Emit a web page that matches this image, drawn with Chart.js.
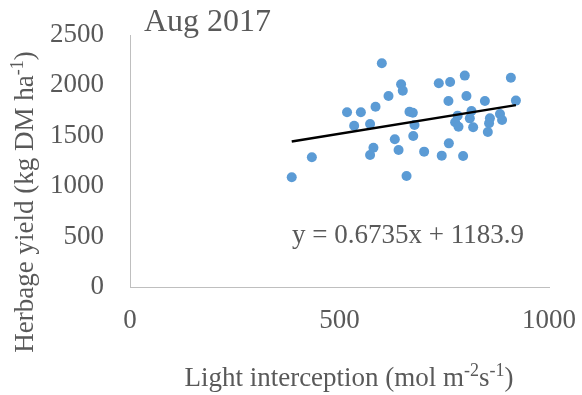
<!DOCTYPE html>
<html>
<head>
<meta charset="utf-8">
<title>Herbage yield vs light interception, Aug 2017</title>
<script src="https://cdn.jsdelivr.net/npm/chart.js@4/dist/chart.umd.min.js"></script>
<style>
  html, body { margin: 0; padding: 0; background: #ffffff; }
  #wrap { width: 582px; height: 395px; }
</style>
</head>
<body>
<div id="wrap"><canvas id="c" width="582" height="395"></canvas></div>
<script>
// Light interception (mol m-2 s-1) per plot
const lightInterception = [
  386, 434, 601, 518, 551, 535, 573, 586, 617, 647, 651,
  667, 675, 679, 676, 632, 581, 573, 641, 660, 702, 744,
  761, 795, 737, 764, 799, 760, 803, 782, 776, 784, 815,
  811, 819, 847, 859, 857, 854, 883, 888, 909, 921
];
// Herbage yield (kg DM ha-1) per plot
const herbageYield = [
  1088, 1287, 2219, 1733, 1733, 1600, 1617, 1789, 1895, 2011, 1948,
  1739, 1729, 1607, 1498, 1465, 1382, 1310, 1359, 1101, 1343, 1303,
  1425, 1300, 2021, 2034, 2097, 1845, 1895, 1700, 1634, 1590, 1746,
  1673, 1584, 1845, 1673, 1624, 1538, 1716, 1657, 2076, 1849
];
// Linear trendline coefficients
const slope = 0.6735;
const intercept = 1183.9;
// Axis ticks
const xTicks = [0, 500, 1000];
const yTicks = [0, 500, 1000, 1500, 2000, 2500];

const points = lightInterception.map((x, i) => ({ x: x, y: herbageYield[i] }));
const xMin = Math.min(...lightInterception);
const xMax = Math.max(...lightInterception);
const trend = [xMin, xMax].map(x => ({ x: x, y: slope * x + intercept }));

const FONT = '"Liberation Serif", "Times New Roman", serif';
const TEXT = '#595959';

// Draws a run of text pieces, some raised as superscripts
function drawRich(ctx, parts, size, x, y, align) {
  const supSize = Math.round(size * 0.65);
  let total = 0;
  parts.forEach(p => {
    ctx.font = (p.sup ? supSize : size) + 'px ' + FONT;
    p.w = ctx.measureText(p.t).width;
    total += p.w;
  });
  let cx = align === 'center' ? x - total / 2 : x;
  parts.forEach(p => {
    ctx.font = (p.sup ? supSize : size) + 'px ' + FONT;
    ctx.fillText(p.t, cx, p.sup ? y - size * 0.38 : y);
    cx += p.w;
  });
}

const labelsPlugin = {
  id: 'labels',
  afterDraw(chart) {
    const ctx = chart.ctx;
    ctx.save();
    ctx.fillStyle = TEXT;
    ctx.textAlign = 'left';
    ctx.textBaseline = 'alphabetic';

    // panel title
    ctx.font = '32px ' + FONT;
    ctx.fillText('Aug 2017', 144, 31);

    // trendline equation
    ctx.font = '27px ' + FONT;
    ctx.fillText('y = ' + slope + 'x + ' + intercept, 292, 243);

    // x axis title
    drawRich(ctx, [
      { t: 'Light interception (mol m' },
      { t: '-2', sup: true },
      { t: 's' },
      { t: '-1', sup: true },
      { t: ')' }
    ], 27, 349, 386, 'center');

    // y axis title
    ctx.translate(33, 202);
    ctx.rotate(-Math.PI / 2);
    drawRich(ctx, [
      { t: 'Herbage yield (kg DM ha' },
      { t: '-1', sup: true },
      { t: ')' }
    ], 27, 0, 0, 'center');
    ctx.restore();
  }
};

const plainNumber = v => String(v);

new Chart(document.getElementById('c'), {
  type: 'scatter',
  data: {
    datasets: [
      {
        label: 'Herbage yield',
        data: points,
        backgroundColor: '#5B9BD5',
        borderColor: '#5B9BD5',
        borderWidth: 0,
        pointRadius: 5,
        pointHoverRadius: 5,
        order: 2
      },
      {
        label: 'Linear trend',
        data: trend,
        type: 'line',
        showLine: true,
        borderColor: '#000000',
        borderWidth: 2.5,
        pointRadius: 0,
        fill: false,
        order: 1
      }
    ]
  },
  options: {
    responsive: false,
    animation: false,
    events: [],
    layout: { padding: { top: 35, right: 33, left: 0, bottom: 0 } },
    plugins: {
      legend: { display: false },
      tooltip: { enabled: false },
      title: { display: false }
    },
    scales: {
      x: {
        type: 'linear',
        min: xTicks[0],
        max: xTicks[xTicks.length - 1],
        afterBuildTicks(scale) { scale.ticks = xTicks.map(v => ({ value: v })); },
        afterFit(scale) {
          scale.height = 108;
          scale.paddingLeft = 0;
          scale.paddingRight = 0;
        },
        grid: { display: false, drawTicks: false },
        border: { display: true, color: '#bfbfbf', width: 1 },
        ticks: {
          color: TEXT,
          font: { family: FONT, size: 27 },
          padding: 18,
          maxRotation: 0,
          callback: plainNumber
        }
      },
      y: {
        type: 'linear',
        min: yTicks[0],
        max: yTicks[yTicks.length - 1],
        afterBuildTicks(scale) { scale.ticks = yTicks.map(v => ({ value: v })); },
        afterFit(scale) {
          scale.width = 130;
          scale.paddingTop = 0;
          scale.paddingBottom = 0;
        },
        grid: { display: false, drawTicks: false },
        border: { display: true, color: '#bfbfbf', width: 1 },
        ticks: {
          color: TEXT,
          font: { family: FONT, size: 27 },
          padding: 26,
          callback: plainNumber
        }
      }
    }
  },
  plugins: [labelsPlugin]
});
</script>
</body>
</html>
